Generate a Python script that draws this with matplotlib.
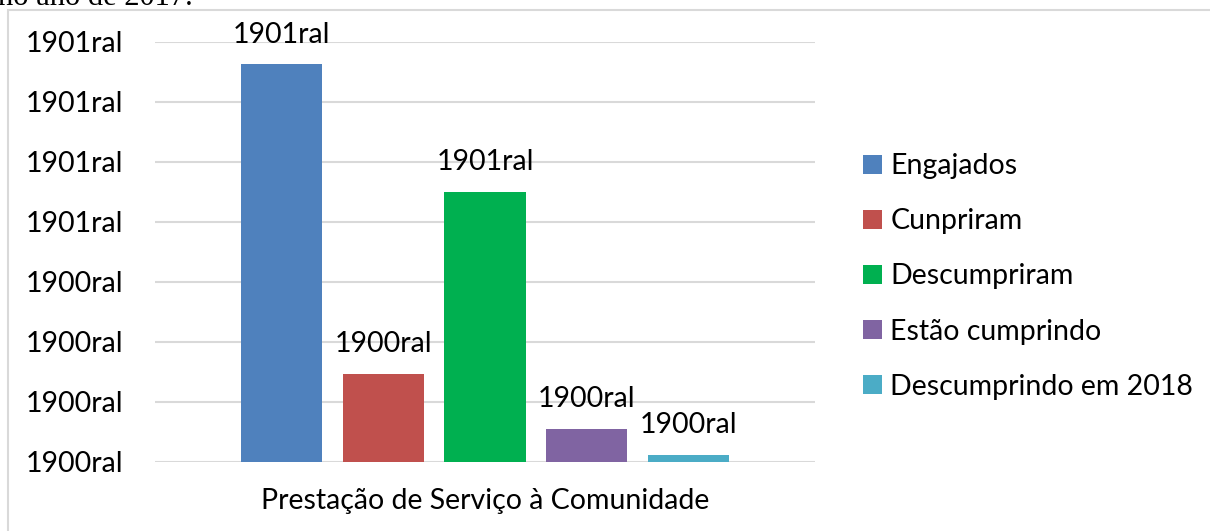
import matplotlib.pyplot as plt
from matplotlib.patches import Rectangle
import numpy as np

# data (axis step 100)
series = ["Engajados", "Cunpriram", "Descumpriram", "Estão cumprindo", "Descumprindo em 2018"]
values = [663, 147, 450, 55, 12]
bar_labels = ["1901ral", "1900ral", "1901ral", "1900ral", "1900ral"]
colors = ["#4f81bd", "#c0504d", "#00b050", "#8064a2", "#4bacc6"]
yticks = [0, 100, 200, 300, 400, 500, 600, 700]
ytick_labels = ["1900ral", "1900ral", "1900ral", "1900ral",
                "1901ral", "1901ral", "1901ral", "1901ral"]
category = "Prestação de Serviço à Comunidade"

plt.rcParams['font.family'] = ['Lato', 'DejaVu Sans']
FS = 20.5

W, H = 1210, 531
fig = plt.figure(figsize=(W / 100, H / 100), dpi=100)

# frame of the chart box (left + top edges visible)
fig.patches.append(Rectangle((8 / W, -0.05), 1.1, 1 - 9.5 / H - (-0.05),
                             transform=fig.transFigure, fill=False,
                             edgecolor="#d9d9d9", linewidth=1.5))

# clipped fragment of the surrounding document text
fig.text(-2 / W, 1 - 5 / H, "no ano de 2017.", family="Liberation Serif",
         fontsize=22, va="baseline", ha="left")

ax = fig.add_axes([155 / W, (H - 462) / H, 660 / W, 420 / H])
x = np.arange(len(values))
bars = ax.bar(x, values, width=0.8, color=colors, label=series, zorder=3)

for b, lab in zip(bars, bar_labels):
    ax.annotate(lab, (b.get_x() + b.get_width() / 2, b.get_height()),
                xytext=(0, 12), textcoords="offset points",
                ha="center", va="bottom", fontsize=FS)

ax.set_xlim(-1.243, 5.243)
ax.set_ylim(0, 700)
ax.set_yticks(yticks)
ax.set_yticklabels(ytick_labels, fontsize=FS)
ax.set_xticks([2])
ax.set_xticklabels([category], fontsize=FS)
ax.tick_params(axis="both", length=0)
ax.tick_params(axis="y", pad=23)
ax.tick_params(axis="x", pad=19)
ax.grid(axis="y", color="#d9d9d9", linewidth=1.5, zorder=0)
for s in ax.spines.values():
    s.set_visible(False)

ax.legend(loc="upper left", bbox_to_anchor=(852 / W, 1 - 142 / H),
          bbox_transform=fig.transFigure, frameon=False, fontsize=FS,
          handlelength=0.65, handleheight=0.65, handletextpad=0.3,
          labelspacing=1.02, borderaxespad=0)

fig.savefig("out.png", dpi=100)
